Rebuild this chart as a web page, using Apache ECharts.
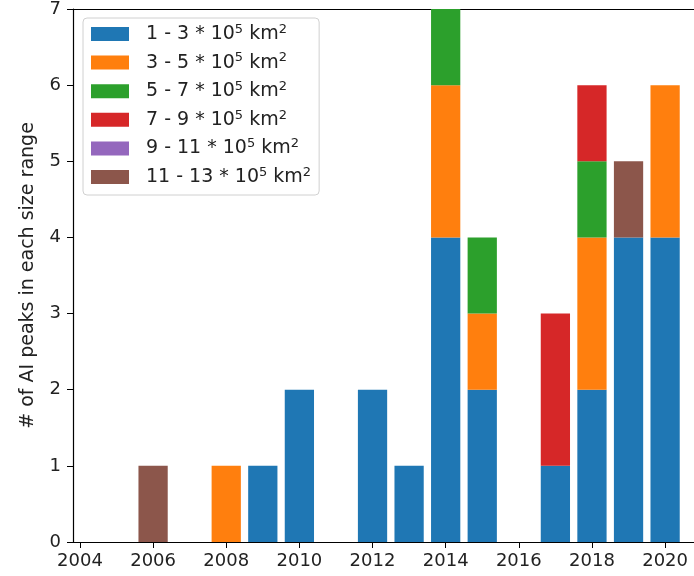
<!DOCTYPE html>
<html><head><meta charset="utf-8">
<script src="https://cdn.jsdelivr.net/npm/echarts@6/dist/echarts.min.js"></script>
<style>html,body{margin:0;padding:0;background:#fff}#c{width:694px;height:576px}</style>
</head><body><div id="c"></div>
<script>
const years = [2006, 2008, 2009, 2010, 2012, 2013, 2014, 2015, 2017, 2018, 2019, 2020];
const tickYears = [2004, 2006, 2008, 2010, 2012, 2014, 2016, 2018, 2020];
const seriesNames = ['1 - 3', '3 - 5', '5 - 7', '7 - 9', '9 - 11', '11 - 13'];
const size1to3   = [0, 0, 1, 2, 2, 1, 4, 2, 1, 2, 4, 4];
const size3to5   = [0, 1, 0, 0, 0, 0, 2, 1, 0, 2, 0, 2];
const size5to7   = [0, 0, 0, 0, 0, 0, 1, 1, 0, 1, 0, 0];
const size7to9   = [0, 0, 0, 0, 0, 0, 0, 0, 2, 1, 0, 0];
const size9to11  = [0, 0, 0, 0, 0, 0, 0, 0, 0, 0, 0, 0];
const size11to13 = [1, 0, 0, 0, 0, 0, 0, 0, 0, 0, 1, 0];
const allValues = [size1to3, size3to5, size5to7, size7to9, size9to11, size11to13];
const colors = ['#1f77b4', '#ff7f0e', '#2ca02c', '#d62728', '#9467bd', '#8c564b'];
const BAR_WIDTH = 0.8; // in years

const FONT = 'DejaVu Sans';
const chart = echarts.init(document.getElementById('c'));

// stacking: base of each segment = sum of previous series at the same year
const bases = years.map(() => 0);
const series = seriesNames.map((n, i) => {
  const data = [];
  years.forEach((y, j) => {
    const v = allValues[i][j];
    if (v > 0) data.push([y, bases[j], bases[j] + v]);
    bases[j] += v;
  });
  return {
    name: n,
    type: 'custom',
    itemStyle: { color: colors[i] },
    encode: { x: 0, y: [1, 2] },
    renderItem: (params, api) => {
      const x = api.value(0), b = api.value(1), t = api.value(2);
      const p0 = api.coord([x - BAR_WIDTH / 2, t]);
      const p1 = api.coord([x + BAR_WIDTH / 2, b]);
      return {
        type: 'rect',
        shape: { x: p0[0], y: p0[1], width: p1[0] - p0[0], height: p1[1] - p0[1] },
        style: { fill: api.visual('color') }
      };
    },
    data: data
  };
});

chart.setOption({
  animation: false,
  color: colors,
  textStyle: { fontFamily: FONT },
  grid: { left: 73, right: 0, top: 8, bottom: 34, containLabel: false },
  legend: {
    orient: 'vertical',
    left: 83, top: 18,
    itemWidth: 38, itemHeight: 14, itemGap: 6.6,
    padding: [5, 8, 7, 8],
    borderColor: '#d0d0d0', borderWidth: 1, borderRadius: 4,
    backgroundColor: 'rgba(255,255,255,0.8)',
    icon: 'rect',
    formatter: n => n + ' * 10{sup|5} km{sup|2}',
    textStyle: {
      fontFamily: FONT, fontSize: 19, color: '#222', lineHeight: 22,
      padding: [0, 0, 0, 12],
      rich: { sup: { fontFamily: FONT, fontSize: 13, color: '#222', lineHeight: 22, padding: [0, 0, 9, 0] } }
    }
  },
  xAxis: [{
    type: 'value', min: 2003.81, max: 2020.79,
    splitLine: { show: false },
    axisLine: { show: true, onZero: false, lineStyle: { color: '#000', width: 1.2 } },
    axisTick: { show: true, length: 6, customValues: tickYears, lineStyle: { color: '#000' } },
    axisLabel: { customValues: tickYears, fontSize: 18, color: '#222', margin: 10, fontFamily: FONT,
                 formatter: v => String(v) }
  }, {
    type: 'value', position: 'top', min: 2003.81, max: 2020.79,
    splitLine: { show: false },
    axisLine: { show: true, onZero: false, lineStyle: { color: '#000', width: 1.2 } },
    axisTick: { show: false }, axisLabel: { show: false }
  }],
  yAxis: {
    type: 'value', min: 0, max: 7, interval: 1,
    name: '# of AI peaks in each size range',
    nameLocation: 'middle', nameGap: 35,
    nameTextStyle: { fontSize: 19, color: '#222', fontFamily: FONT },
    splitLine: { show: false },
    axisLine: { show: true, lineStyle: { color: '#000', width: 1.2 } },
    axisTick: { show: true, length: 6, lineStyle: { color: '#000' } },
    axisLabel: { fontSize: 18, color: '#222', margin: 12, fontFamily: FONT }
  },
  series: series
});
</script></body></html>
